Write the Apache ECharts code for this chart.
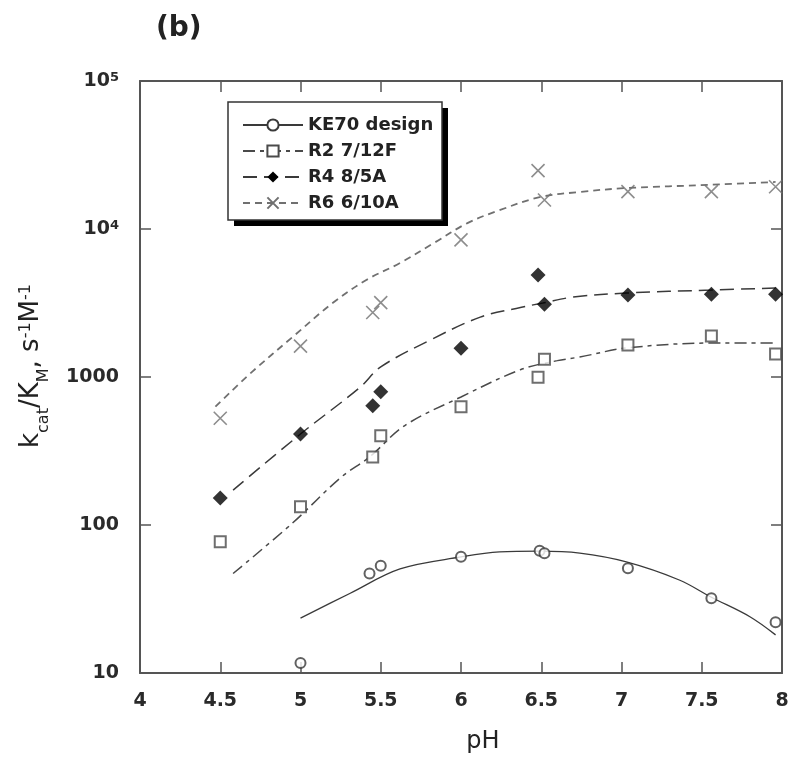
<!DOCTYPE html>
<html>
<head>
<meta charset="utf-8">
<script src="https://cdn.jsdelivr.net/npm/echarts@6/dist/echarts.min.js"></script>
<style>
html,body{margin:0;padding:0;background:#fff;}
#chart{width:800px;height:773px;}
</style>
</head>
<body>
<div id="chart"></div>
<script>
// ---- Data ----
const seriesNames = ['KE70 design', 'R2 7/12F', 'R4 8/5A', 'R6 6/10A'];
const xTicks = [4, 4.5, 5, 5.5, 6, 6.5, 7, 7.5, 8];
const yTicks = [10, 100, 1000, 10000, 100000];

// measured points
const phKE70 = [5.0, 5.43, 5.5, 6.0, 6.49, 6.52, 7.04, 7.56, 7.96];
const kKE70  = [11.7, 47, 53, 61, 67, 64.5, 51, 32, 22];
const phR2   = [4.5, 5.0, 5.45, 5.5, 6.0, 6.48, 6.52, 7.04, 7.56, 7.96];
const kR2    = [77, 133, 288, 401, 630, 995, 1320, 1645, 1893, 1430];
const phR4   = [4.5, 5.0, 5.45, 5.5, 6.0, 6.48, 6.52, 7.04, 7.56, 7.96];
const kR4    = [152, 412, 640, 794, 1563, 4890, 3100, 3580, 3620, 3620];
const phR6   = [4.5, 5.0, 5.45, 5.5, 6.0, 6.48, 6.52, 7.04, 7.56, 7.96];
const kR6    = [526, 1618, 2730, 3180, 8440, 24800, 15700, 17900, 17900, 19300];

// fitted curves
const fitPhKE70 = [5.0, 5.31, 5.62, 6.0, 6.24, 6.49, 6.74, 7.03, 7.36, 7.56, 7.8, 7.96];
const fitKKE70  = [23.5, 34.6, 50.5, 60.8, 65.8, 66.5, 64.5, 56.3, 42.5, 32.5, 24, 18.1];
const fitPhR2   = [4.58, 4.95, 5.25, 5.43, 5.65, 6.0, 6.37, 6.6, 6.74, 7.03, 7.56, 7.96];
const fitKR2    = [47, 103, 209, 288, 470, 733, 1120, 1290, 1365, 1570, 1697, 1700];
const fitPhR4   = [4.58, 5.0, 5.37, 5.5, 5.81, 6.12, 6.37, 6.51, 6.7, 7.03, 7.56, 7.96];
const fitKR4    = [172, 412, 850, 1170, 1780, 2540, 2950, 3160, 3470, 3690, 3870, 3990];
const fitPhR6   = [4.47, 4.70, 4.95, 5.2, 5.41, 5.62, 5.83, 6.04, 6.24, 6.49, 6.74, 7.03, 7.56, 7.96];
const fitKR6    = [631, 1087, 1860, 3160, 4520, 5890, 8030, 10960, 13400, 16400, 17800, 18900, 19900, 20800];

const zip = (a, b) => a.map((v, i) => [v, b[i]]);

const crossPath = 'path://M0,0L10,10M10,0L0,10';
const FONT = 'DejaVu Sans';

const styles = [
  {sym: 'emptyCircle', size: 10, line: {color: '#3a3a3a', width: 1.3, type: 'solid'},
   item: {color: '#3a3a3a', borderWidth: 1.3}},
  {sym: 'emptyRect', size: 11, line: {color: '#4a4a4a', width: 1.5, type: [12, 5, 4, 5]},
   item: {color: '#4a4a4a', borderWidth: 1.4}},
  {sym: 'diamond', size: 15, line: {color: '#3a3a3a', width: 1.5, type: [14, 7]},
   item: {color: '#000'}},
  {sym: crossPath, size: 13, line: {color: '#707070', width: 1.8, type: [7, 5]},
   item: {color: 'rgba(0,0,0,0)', borderColor: '#707070', borderWidth: 1.6}}
];
const fits = [zip(fitPhKE70, fitKKE70), zip(fitPhR2, fitKR2), zip(fitPhR4, fitKR4), zip(fitPhR6, fitKR6)];
const pts = [zip(phKE70, kKE70), zip(phR2, kR2), zip(phR4, kR4), zip(phR6, kR6)];

const series = [];
seriesNames.forEach((name, i) => {
  const s = styles[i];
  series.push({
    name: name, type: 'line', data: fits[i], smooth: 0.35,
    symbol: s.sym, symbolSize: s.size, showSymbol: false,
    lineStyle: s.line, itemStyle: s.item, silent: true, z: 2
  });
});
seriesNames.forEach((name, i) => {
  const s = styles[i];
  series.push({
    name: name, type: 'scatter', data: pts[i],
    symbol: s.sym, symbolSize: s.size,
    itemStyle: s.sym === 'emptyCircle' || s.sym === 'emptyRect'
      ? {color: s.item.color, borderWidth: s.item.borderWidth}
      : s.item,
    z: 3
  });
});

const yLabelFmt = v => {
  const e = Math.round(Math.log10(v));
  if (e >= 4) return '{b|10}{s|' + e + '}';
  return '{b|' + Math.round(Math.pow(10, e)) + '}';
};

const axisLineStyle = {color: '#555', width: 2};
const tickStyle = {color: '#555', width: 1.5};

const option = {
  animation: false,
  backgroundColor: '#fff',
  title: {
    text: '(b)', left: 151, top: 10,
    textStyle: {fontFamily: FONT, fontWeight: 'bold', fontSize: 28, color: '#222'}
  },
  graphic: [
    {type: 'rect', z: 20, shape: {x: 234, y: 108, width: 214, height: 118}, style: {fill: '#000'}},
    {type: 'rect', z: 21, shape: {x: 228, y: 102, width: 214, height: 118},
     style: {fill: '#fff', stroke: '#333', lineWidth: 1.5}}
  ],
  legend: {
    data: seriesNames, z: 30,
    orient: 'vertical', left: 228, top: 102,
    padding: [14, 14, 12, 14],
    itemWidth: 60, itemHeight: 14, itemGap: 8,
    textStyle: {fontFamily: FONT, fontWeight: 'bold', fontSize: 18, color: '#222'},
    selectedMode: false
  },
  grid: {left: 140, right: 18, top: 81, bottom: 100, containLabel: false},
  xAxis: [{
    type: 'value', min: 4, max: 8, interval: 0.5,
    name: 'pH', nameLocation: 'middle', nameGap: 57,
    nameTextStyle: {fontFamily: FONT, fontSize: 24, color: '#222', padding: [0, 0, 0, 44]},
    axisLine: {lineStyle: axisLineStyle},
    axisTick: {inside: true, length: 11, lineStyle: tickStyle},
    axisLabel: {
      fontFamily: FONT, fontWeight: 'bold', fontSize: 19, color: '#2a2a2a', margin: 19,
      formatter: v => (xTicks.indexOf(v) >= 0 ? String(v) : '')
    },
    splitLine: {show: false}
  }, {
    type: 'value', min: 4, max: 8, interval: 0.5, position: 'top',
    axisLine: {lineStyle: axisLineStyle},
    axisTick: {inside: true, length: 11, lineStyle: tickStyle},
    axisLabel: {show: false}, splitLine: {show: false}
  }],
  yAxis: [{
    type: 'log', logBase: 10, min: yTicks[0], max: yTicks[yTicks.length - 1], splitNumber: 4,
    name: '{n|k}{sub|cat}{n|/K}{sub|M}{n|, s}{sup|-1}{n|M}{sup|-1}',
    nameLocation: 'middle', nameRotate: 90, nameGap: 88,
    nameTextStyle: {
      fontFamily: FONT, color: '#222', padding: [0, 0, 0, 22],
      rich: {
        n: {fontFamily: FONT, fontSize: 26, color: '#222', padding: [0, 0, 8, 0], verticalAlign: 'bottom'},
        sub: {fontFamily: FONT, fontSize: 16, color: '#222', verticalAlign: 'bottom'},
        sup: {fontFamily: FONT, fontSize: 16, color: '#222', verticalAlign: 'top'}
      }
    },
    axisLine: {lineStyle: axisLineStyle},
    axisTick: {inside: true, length: 11, lineStyle: tickStyle},
    minorTick: {show: false},
    axisLabel: {
      margin: 21, formatter: yLabelFmt,
      rich: {
        b: {fontFamily: FONT, fontWeight: 'bold', fontSize: 19, color: '#2a2a2a', verticalAlign: 'bottom'},
        s: {fontFamily: FONT, fontWeight: 'bold', fontSize: 13, color: '#2a2a2a', verticalAlign: 'top'}
      }
    },
    splitLine: {show: false}
  }, {
    type: 'log', logBase: 10, min: yTicks[0], max: yTicks[yTicks.length - 1], splitNumber: 4,
    position: 'right',
    axisLine: {lineStyle: axisLineStyle},
    axisTick: {inside: true, length: 11, lineStyle: tickStyle},
    axisLabel: {show: false}, splitLine: {show: false}
  }],
  series: series
};

const chart = echarts.init(document.getElementById('chart'), null, {renderer: 'canvas'});
chart.setOption(option);
</script>
</body>
</html>
